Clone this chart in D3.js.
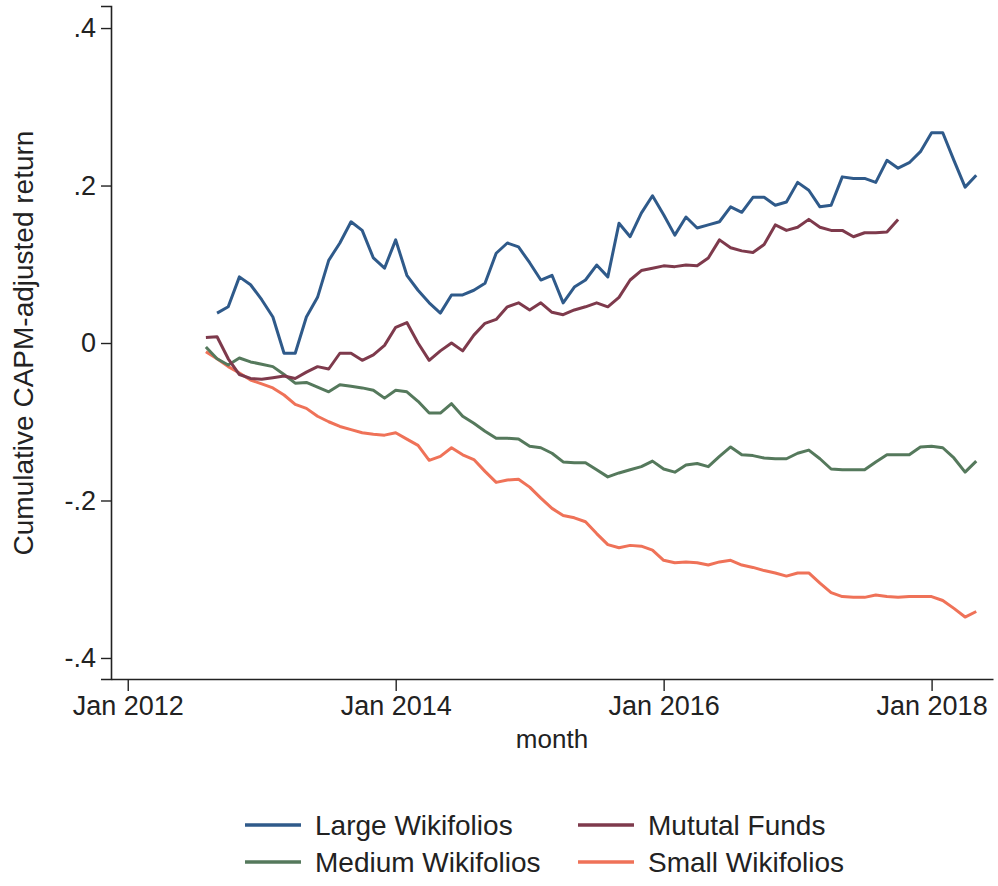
<!DOCTYPE html>
<html>
<head>
<meta charset="utf-8">
<script src="https://cdn.jsdelivr.net/npm/d3@7"></script>
<style>
  body { margin: 0; background: #fff; }
  text { font-family: "Liberation Sans", Arial, sans-serif; fill: #222; }
</style>
</head>
<body>
<div id="chart"></div>
<script>
'use strict';

// months counted from Jan 2012 (0 = Jan 2012)
const largeStart = 8;
const largeValues = [0.038, 0.046, 0.084, 0.074, 0.055, 0.033, -0.013, -0.013, 0.033, 0.058,
    0.105, 0.127, 0.154, 0.143, 0.108, 0.095, 0.131, 0.086, 0.067, 0.051,
    0.038, 0.061, 0.061, 0.067, 0.076, 0.114, 0.127, 0.122, 0.102, 0.080,
    0.086, 0.051, 0.071, 0.080, 0.099, 0.084, 0.152, 0.135, 0.165, 0.187,
    0.163, 0.137, 0.160, 0.146, 0.150, 0.154, 0.173, 0.166, 0.185, 0.185,
    0.175, 0.179, 0.204, 0.194, 0.173, 0.175, 0.211, 0.209, 0.209, 0.204,
    0.232, 0.222, 0.229, 0.243, 0.267, 0.267, 0.232, 0.198, 0.213];

const mutualStart = 7;
const mutualValues = [0.007, 0.008, -0.020, -0.040, -0.045, -0.046, -0.044, -0.042, -0.045, -0.037,
    -0.030, -0.033, -0.013, -0.013, -0.022, -0.015, -0.003, 0.020, 0.026, 0.000,
    -0.022, -0.010, 0.000, -0.010, 0.010, 0.025, 0.030, 0.046, 0.051, 0.042,
    0.051, 0.039, 0.036, 0.042, 0.046, 0.051, 0.046, 0.058, 0.080, 0.092,
    0.095, 0.098, 0.097, 0.099, 0.098, 0.108, 0.131, 0.121, 0.117, 0.115,
    0.125, 0.150, 0.143, 0.147, 0.157, 0.147, 0.143, 0.143, 0.135, 0.140,
    0.140, 0.141, 0.157];

const mediumStart = 7;
const mediumValues = [-0.005, -0.020, -0.028, -0.019, -0.024, -0.027, -0.030, -0.040, -0.051, -0.050,
    -0.056, -0.062, -0.053, -0.055, -0.057, -0.060, -0.070, -0.060, -0.062, -0.074,
    -0.089, -0.089, -0.077, -0.093, -0.102, -0.112, -0.121, -0.121, -0.122, -0.131,
    -0.133, -0.140, -0.151, -0.152, -0.152, -0.161, -0.170, -0.165, -0.161, -0.157,
    -0.150, -0.160, -0.164, -0.155, -0.153, -0.157, -0.144, -0.132, -0.142, -0.143,
    -0.146, -0.147, -0.147, -0.140, -0.136, -0.147, -0.160, -0.161, -0.161, -0.161,
    -0.151, -0.142, -0.142, -0.142, -0.132, -0.131, -0.133, -0.146, -0.164, -0.150];

const smallStart = 7;
const smallValues = [-0.011, -0.020, -0.030, -0.038, -0.047, -0.052, -0.057, -0.066, -0.078, -0.083,
    -0.093, -0.100, -0.106, -0.110, -0.114, -0.116, -0.117, -0.114, -0.122, -0.130,
    -0.149, -0.144, -0.133, -0.142, -0.148, -0.163, -0.177, -0.174, -0.173, -0.183,
    -0.197, -0.210, -0.219, -0.222, -0.227, -0.242, -0.256, -0.260, -0.257, -0.258,
    -0.263, -0.276, -0.279, -0.278, -0.279, -0.282, -0.278, -0.276, -0.282, -0.285,
    -0.289, -0.292, -0.296, -0.292, -0.292, -0.305, -0.317, -0.322, -0.323, -0.323,
    -0.320, -0.322, -0.323, -0.322, -0.322, -0.322, -0.327, -0.337, -0.348, -0.341];

const xTickMonths = [0, 24, 48, 72];
const xTickLabels = ["Jan 2012", "Jan 2014", "Jan 2016", "Jan 2018"];
const yTickValues = [0.4, 0.2, 0, -0.2, -0.4];
const yTickLabels = [".4", ".2", "0", "-.2", "-.4"];

const seriesNames = ["Large Wikifolios", "Mututal Funds", "Medium Wikifolios", "Small Wikifolios"];
const seriesColors = ["#2f5a8a", "#7e3a4c", "#55795c", "#ef7258"];

const width = 998;
const height = 886;

const svg = d3.select("#chart")
    .append("svg")
    .attr("width", width)
    .attr("height", height);

const x = d3.scaleLinear().domain([-1.5, 77.5]).range([111, 993]);
const y = d3.scaleLinear().domain([-0.4267, 0.428]).range([679, 6]);

function toPoints(start, values) {
    return values.map((v, i) => ({ m: start + i, v: v }));
}

const series = [
    toPoints(largeStart, largeValues),
    toPoints(mutualStart, mutualValues),
    toPoints(mediumStart, mediumValues),
    toPoints(smallStart, smallValues)
];

const line = d3.line()
    .x(d => x(d.m))
    .y(d => y(d.v));

// draw small first so the others sit on top, like the original
[3, 2, 1, 0].forEach(i => {
    svg.append("path")
        .attr("fill", "none")
        .attr("stroke", seriesColors[i])
        .attr("stroke-width", 3)
        .attr("stroke-linejoin", "round")
        .attr("d", line(series[i]));
});

// y axis
const yAxis = svg.append("g")
    .attr("transform", `translate(${x.range()[0]},0)`)
    .call(d3.axisLeft(y)
        .tickValues(yTickValues)
        .tickFormat((d, i) => yTickLabels[i])
        .tickSize(10)
        .tickPadding(5));
yAxis.select(".domain").attr("stroke", "#222").attr("stroke-width", 1.6);
yAxis.selectAll(".tick line").attr("stroke", "#222").attr("stroke-width", 1.4);
yAxis.selectAll(".tick text")
    .attr("font-size", 27)
    .attr("font-family", "Liberation Sans, Arial, sans-serif")
    .attr("fill", "#222");

// x axis
const xAxis = svg.append("g")
    .attr("transform", `translate(0,${y.range()[0]})`)
    .call(d3.axisBottom(x)
        .tickValues(xTickMonths)
        .tickFormat((d, i) => xTickLabels[i])
        .tickSize(12)
        .tickSizeOuter(0)
        .tickPadding(5));
xAxis.select(".domain").attr("stroke", "#222").attr("stroke-width", 1.6);
xAxis.selectAll(".tick line").attr("stroke", "#222").attr("stroke-width", 1.4);
xAxis.selectAll(".tick text")
    .attr("font-size", 27)
    .attr("font-family", "Liberation Sans, Arial, sans-serif")
    .attr("fill", "#222");

// axis titles
svg.append("text")
    .attr("x", 552)
    .attr("y", 748)
    .attr("text-anchor", "middle")
    .attr("font-size", 26)
    .text("month");

svg.append("text")
    .attr("transform", "translate(33,343) rotate(-90)")
    .attr("text-anchor", "middle")
    .attr("font-size", 28)
    .attr("fill", "#333")
    .text("Cumulative CAPM-adjusted return");

// legend, two columns
const legendCols = [245, 578];
const legendRows = [825, 862];
const legend = svg.append("g");
seriesNames.forEach((name, i) => {
    const lx = legendCols[i % 2];
    const ly = legendRows[Math.floor(i / 2)];
    legend.append("line")
        .attr("x1", lx).attr("x2", lx + 56)
        .attr("y1", ly).attr("y2", ly)
        .attr("stroke", seriesColors[i])
        .attr("stroke-width", 3.5);
    legend.append("text")
        .attr("x", lx + 70)
        .attr("y", ly + 10)
        .attr("font-size", 28)
        .text(name);
});
</script>
</body>
</html>
